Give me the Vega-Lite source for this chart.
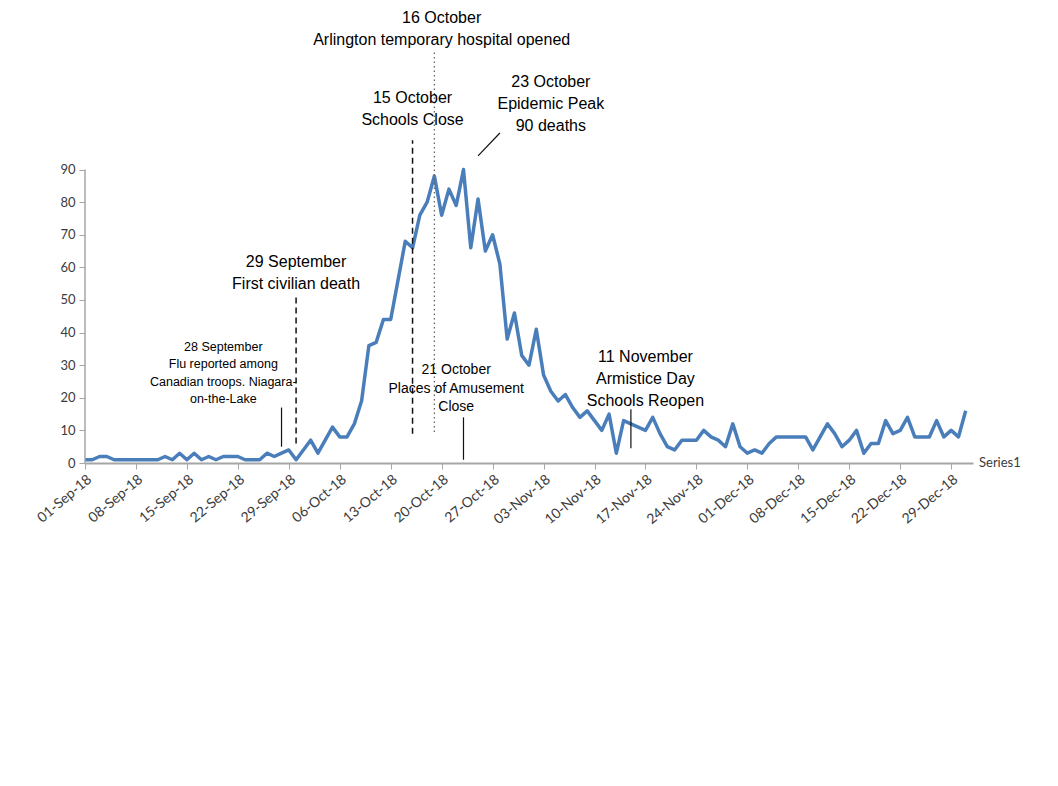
{
  "$schema": "https://vega.github.io/schema/vega-lite/v6.json",
  "width": 888,
  "height": 463,
  "autosize": {"type": "none"},
  "padding": {"left": 85, "top": 0, "right": 85, "bottom": 323},
  "background": "white",
  "config": {"view": {"stroke": null}, "font": "Liberation Sans"},
  "datasets": {
    "deaths": [
      {"date": "2018-09-01", "deaths": 1}, {"date": "2018-09-02", "deaths": 1}, {"date": "2018-09-03", "deaths": 2}, {"date": "2018-09-04", "deaths": 2}, {"date": "2018-09-05", "deaths": 1},
      {"date": "2018-09-06", "deaths": 1}, {"date": "2018-09-07", "deaths": 1}, {"date": "2018-09-08", "deaths": 1}, {"date": "2018-09-09", "deaths": 1}, {"date": "2018-09-10", "deaths": 1},
      {"date": "2018-09-11", "deaths": 1}, {"date": "2018-09-12", "deaths": 2}, {"date": "2018-09-13", "deaths": 1}, {"date": "2018-09-14", "deaths": 3}, {"date": "2018-09-15", "deaths": 1},
      {"date": "2018-09-16", "deaths": 3}, {"date": "2018-09-17", "deaths": 1}, {"date": "2018-09-18", "deaths": 2}, {"date": "2018-09-19", "deaths": 1}, {"date": "2018-09-20", "deaths": 2},
      {"date": "2018-09-21", "deaths": 2}, {"date": "2018-09-22", "deaths": 2}, {"date": "2018-09-23", "deaths": 1}, {"date": "2018-09-24", "deaths": 1}, {"date": "2018-09-25", "deaths": 1},
      {"date": "2018-09-26", "deaths": 3}, {"date": "2018-09-27", "deaths": 2}, {"date": "2018-09-28", "deaths": 3}, {"date": "2018-09-29", "deaths": 4}, {"date": "2018-09-30", "deaths": 1},
      {"date": "2018-10-01", "deaths": 4}, {"date": "2018-10-02", "deaths": 7}, {"date": "2018-10-03", "deaths": 3}, {"date": "2018-10-04", "deaths": 7}, {"date": "2018-10-05", "deaths": 11},
      {"date": "2018-10-06", "deaths": 8}, {"date": "2018-10-07", "deaths": 8}, {"date": "2018-10-08", "deaths": 12}, {"date": "2018-10-09", "deaths": 19}, {"date": "2018-10-10", "deaths": 36},
      {"date": "2018-10-11", "deaths": 37}, {"date": "2018-10-12", "deaths": 44}, {"date": "2018-10-13", "deaths": 44}, {"date": "2018-10-14", "deaths": 56}, {"date": "2018-10-15", "deaths": 68},
      {"date": "2018-10-16", "deaths": 66}, {"date": "2018-10-17", "deaths": 76}, {"date": "2018-10-18", "deaths": 80}, {"date": "2018-10-19", "deaths": 88}, {"date": "2018-10-20", "deaths": 76},
      {"date": "2018-10-21", "deaths": 84}, {"date": "2018-10-22", "deaths": 79}, {"date": "2018-10-23", "deaths": 90}, {"date": "2018-10-24", "deaths": 66}, {"date": "2018-10-25", "deaths": 81},
      {"date": "2018-10-26", "deaths": 65}, {"date": "2018-10-27", "deaths": 70}, {"date": "2018-10-28", "deaths": 61}, {"date": "2018-10-29", "deaths": 38}, {"date": "2018-10-30", "deaths": 46},
      {"date": "2018-10-31", "deaths": 33},
      {"date": "2018-11-01", "deaths": 30}, {"date": "2018-11-02", "deaths": 41}, {"date": "2018-11-03", "deaths": 27}, {"date": "2018-11-04", "deaths": 22}, {"date": "2018-11-05", "deaths": 19},
      {"date": "2018-11-06", "deaths": 21}, {"date": "2018-11-07", "deaths": 17}, {"date": "2018-11-08", "deaths": 14}, {"date": "2018-11-09", "deaths": 16}, {"date": "2018-11-10", "deaths": 13},
      {"date": "2018-11-11", "deaths": 10}, {"date": "2018-11-12", "deaths": 15}, {"date": "2018-11-13", "deaths": 3}, {"date": "2018-11-14", "deaths": 13}, {"date": "2018-11-15", "deaths": 12},
      {"date": "2018-11-16", "deaths": 11}, {"date": "2018-11-17", "deaths": 10}, {"date": "2018-11-18", "deaths": 14}, {"date": "2018-11-19", "deaths": 9}, {"date": "2018-11-20", "deaths": 5},
      {"date": "2018-11-21", "deaths": 4}, {"date": "2018-11-22", "deaths": 7}, {"date": "2018-11-23", "deaths": 7}, {"date": "2018-11-24", "deaths": 7}, {"date": "2018-11-25", "deaths": 10},
      {"date": "2018-11-26", "deaths": 8}, {"date": "2018-11-27", "deaths": 7}, {"date": "2018-11-28", "deaths": 5}, {"date": "2018-11-29", "deaths": 12}, {"date": "2018-11-30", "deaths": 5},
      {"date": "2018-12-01", "deaths": 3}, {"date": "2018-12-02", "deaths": 4}, {"date": "2018-12-03", "deaths": 3}, {"date": "2018-12-04", "deaths": 6}, {"date": "2018-12-05", "deaths": 8},
      {"date": "2018-12-06", "deaths": 8}, {"date": "2018-12-07", "deaths": 8}, {"date": "2018-12-08", "deaths": 8}, {"date": "2018-12-09", "deaths": 8}, {"date": "2018-12-10", "deaths": 4},
      {"date": "2018-12-11", "deaths": 8}, {"date": "2018-12-12", "deaths": 12}, {"date": "2018-12-13", "deaths": 9}, {"date": "2018-12-14", "deaths": 5}, {"date": "2018-12-15", "deaths": 7},
      {"date": "2018-12-16", "deaths": 10}, {"date": "2018-12-17", "deaths": 3}, {"date": "2018-12-18", "deaths": 6}, {"date": "2018-12-19", "deaths": 6}, {"date": "2018-12-20", "deaths": 13},
      {"date": "2018-12-21", "deaths": 9}, {"date": "2018-12-22", "deaths": 10}, {"date": "2018-12-23", "deaths": 14}, {"date": "2018-12-24", "deaths": 8}, {"date": "2018-12-25", "deaths": 8},
      {"date": "2018-12-26", "deaths": 8}, {"date": "2018-12-27", "deaths": 13}, {"date": "2018-12-28", "deaths": 8}, {"date": "2018-12-29", "deaths": 10}, {"date": "2018-12-30", "deaths": 8},
      {"date": "2018-12-31", "deaths": 16}
    ],
    "yaxis": [{"date": "2018-09-01", "y1": 0, "y2": 90}],
    "solid": [
      {"date": "2018-09-28", "y1": 5, "y2": 17},
      {"date": "2018-10-23", "y1": 1, "y2": 14},
      {"date": "2018-11-15", "y1": 4.5, "y2": 16.5}
    ],
    "dashed": [
      {"date": "2018-09-30", "y1": 6, "y2": 51},
      {"date": "2018-10-16", "y1": 9, "y2": 99}
    ],
    "dotted": [{"date": "2018-10-19", "y1": 9.5, "y2": 126.5}],
    "diag": [{"date": "2018-10-25", "date2": "2018-10-28", "y1": 94.2, "y2": 101.2}],
    "bigText": [
      {"date": "2018-10-20", "y": 136.5, "label": "16 October\nArlington temporary hospital opened"},
      {"date": "2018-10-16", "y": 112, "label": "15 October\nSchools Close"},
      {"date": "2018-11-04", "y": 116.9, "label": "23 October\nEpidemic Peak\n90 deaths"},
      {"date": "2018-09-30", "y": 61.7, "label": "29 September\nFirst civilian death"},
      {"date": "2018-11-17", "y": 32.5, "label": "11 November\nArmistice Day\nSchools Reopen"}
    ],
    "midText": [
      {"date": "2018-10-22", "y": 28.5, "label": "21 October\nPlaces of Amusement\nClose"}
    ],
    "smallText": [
      {"date": "2018-09-20", "y": 35.6, "label": "28 September\nFlu reported among\nCanadian troops. Niagara-\non-the-Lake"}
    ],
    "series": [{"date": "2019-01-01", "y": 0, "label": "Series1"}]
  },
  "layer": [
    {
      "data": {"name": "deaths"},
      "mark": {"type": "line", "color": "#4a7ebb", "strokeWidth": 3.5, "strokeJoin": "round"},
      "encoding": {
        "x": {
          "field": "date", "type": "temporal",
          "scale": {"type": "utc", "domain": [{"year": 2018, "month": 9, "date": 1, "utc": true}, {"year": 2019, "month": 1, "date": 1, "utc": true}]},
          "axis": {
            "title": null,
            "values": [
              {"year": 2018, "month": 9, "date": 1, "utc": true}, {"year": 2018, "month": 9, "date": 8, "utc": true},
              {"year": 2018, "month": 9, "date": 15, "utc": true}, {"year": 2018, "month": 9, "date": 22, "utc": true},
              {"year": 2018, "month": 9, "date": 29, "utc": true}, {"year": 2018, "month": 10, "date": 6, "utc": true},
              {"year": 2018, "month": 10, "date": 13, "utc": true}, {"year": 2018, "month": 10, "date": 20, "utc": true},
              {"year": 2018, "month": 10, "date": 27, "utc": true}, {"year": 2018, "month": 11, "date": 3, "utc": true},
              {"year": 2018, "month": 11, "date": 10, "utc": true}, {"year": 2018, "month": 11, "date": 17, "utc": true},
              {"year": 2018, "month": 11, "date": 24, "utc": true}, {"year": 2018, "month": 12, "date": 1, "utc": true},
              {"year": 2018, "month": 12, "date": 8, "utc": true}, {"year": 2018, "month": 12, "date": 15, "utc": true},
              {"year": 2018, "month": 12, "date": 22, "utc": true}, {"year": 2018, "month": 12, "date": 29, "utc": true}
            ],
            "format": "%d-%b-%y",
            "labelAngle": -40,
            "labelFont": "Lato",
            "labelFontSize": 14,
            "labelColor": "#3b3b3b",
            "labelOverlap": false,
            "labelPadding": 3,
            "tickColor": "#a6a6a6",
            "tickSize": 6,
            "domainColor": "#a6a6a6",
            "domainWidth": 2,
            "grid": false
          }
        },
        "y": {
          "field": "deaths", "type": "quantitative",
          "scale": {"domain": [0, 142], "nice": false},
          "axis": {
            "title": null,
            "values": [0, 10, 20, 30, 40, 50, 60, 70, 80, 90],
            "domain": false,
            "grid": false,
            "tickColor": "#a6a6a6",
            "tickSize": 6,
            "labelFont": "Lato",
            "labelFontSize": 13,
            "labelColor": "#3b3b3b",
            "labelPadding": 4
          }
        }
      }
    },
    {
      "data": {"name": "yaxis"},
      "mark": {"type": "rule", "color": "#a6a6a6", "strokeWidth": 1.5},
      "encoding": {
        "x": {"field": "date", "type": "temporal"},
        "y": {"field": "y1", "type": "quantitative"},
        "y2": {"field": "y2"}
      }
    },
    {
      "data": {"name": "solid"},
      "mark": {"type": "rule", "color": "#111111", "strokeWidth": 1.2},
      "encoding": {
        "x": {"field": "date", "type": "temporal"},
        "y": {"field": "y1", "type": "quantitative"},
        "y2": {"field": "y2"}
      }
    },
    {
      "data": {"name": "dashed"},
      "mark": {"type": "rule", "color": "#111111", "strokeWidth": 1.5, "strokeDash": [6, 4]},
      "encoding": {
        "x": {"field": "date", "type": "temporal"},
        "y": {"field": "y1", "type": "quantitative"},
        "y2": {"field": "y2"}
      }
    },
    {
      "data": {"name": "dotted"},
      "mark": {"type": "rule", "color": "#666666", "strokeWidth": 1.3, "strokeDash": [1.5, 3]},
      "encoding": {
        "x": {"field": "date", "type": "temporal"},
        "y": {"field": "y1", "type": "quantitative"},
        "y2": {"field": "y2"}
      }
    },
    {
      "data": {"name": "diag"},
      "mark": {"type": "rule", "color": "#111111", "strokeWidth": 1.2},
      "encoding": {
        "x": {"field": "date", "type": "temporal"},
        "x2": {"field": "date2"},
        "y": {"field": "y1", "type": "quantitative"},
        "y2": {"field": "y2"}
      }
    },
    {
      "data": {"name": "bigText"},
      "mark": {"type": "text", "font": "Liberation Sans", "fontSize": 16, "lineBreak": "\n", "lineHeight": 22, "align": "center", "baseline": "middle", "color": "#000000"},
      "encoding": {
        "x": {"field": "date", "type": "temporal"},
        "y": {"field": "y", "type": "quantitative"},
        "text": {"field": "label"}
      }
    },
    {
      "data": {"name": "midText"},
      "mark": {"type": "text", "font": "Liberation Sans", "fontSize": 14, "lineBreak": "\n", "lineHeight": 18.5, "align": "center", "baseline": "middle", "color": "#000000"},
      "encoding": {
        "x": {"field": "date", "type": "temporal"},
        "y": {"field": "y", "type": "quantitative"},
        "text": {"field": "label"}
      }
    },
    {
      "data": {"name": "smallText"},
      "mark": {"type": "text", "font": "Liberation Sans", "fontSize": 12.5, "lineBreak": "\n", "lineHeight": 17.5, "align": "center", "baseline": "middle", "color": "#000000"},
      "encoding": {
        "x": {"field": "date", "type": "temporal"},
        "y": {"field": "y", "type": "quantitative"},
        "text": {"field": "label"}
      }
    },
    {
      "data": {"name": "series"},
      "mark": {"type": "text", "font": "Lato", "fontSize": 13, "align": "left", "baseline": "middle", "dx": 6, "color": "#3b3b3b"},
      "encoding": {
        "x": {"field": "date", "type": "temporal"},
        "y": {"field": "y", "type": "quantitative"},
        "text": {"field": "label"}
      }
    }
  ]
}
